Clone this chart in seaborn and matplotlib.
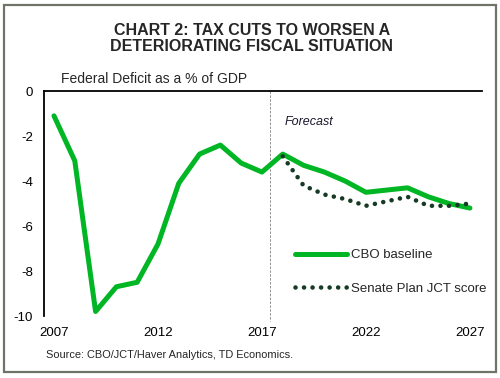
import pandas as pd
import matplotlib
matplotlib.use("Agg")
import matplotlib.pyplot as plt
from matplotlib.patches import Rectangle
import seaborn as sns

# values
years = list(range(2007, 2028))
cbo_baseline = [-1.1, -3.1, -9.8, -8.7, -8.5, -6.8, -4.1, -2.8, -2.4, -3.2, -3.6,
                -2.8, -3.3, -3.6, -4.0, -4.5, -4.4, -4.3, -4.7, -5.0, -5.2]
senate_years = list(range(2018, 2028))
senate_jct = [-2.9, -4.2, -4.6, -4.8, -5.1, -4.9, -4.7, -5.1, -5.1, -5.0]
xticks = [2007, 2012, 2017, 2022, 2027]
yticks = [0, -2, -4, -6, -8, -10]

sns.set_style("white")
plt.rcParams['font.family'] = ['Liberation Sans', 'DejaVu Sans']

cbo_df = pd.DataFrame({'year': years, 'deficit': cbo_baseline})
jct_df = pd.DataFrame({'year': senate_years, 'deficit': senate_jct})

fig = plt.figure(figsize=(5.0, 3.78), dpi=100)
ax = fig.add_axes([0.088, 0.164, 0.876, 0.595])

sns.lineplot(data=cbo_df, x='year', y='deficit', ax=ax, color='#00b624',
             linewidth=3.6, label='CBO baseline', solid_capstyle='round')
sns.lineplot(data=jct_df, x='year', y='deficit', ax=ax, color='#163a24',
             linewidth=3.3, linestyle=(0, (0.01, 1.85)), dash_capstyle='round',
             label='Senate Plan JCT score')

# forecast divider
ax.plot([2017.4, 2017.4], [0, -10.2], color='#909090', linewidth=0.7,
        linestyle=(0, (2.5, 1.5)), clip_on=False, zorder=1)
ax.text(2018.1, -1.37, 'Forecast', fontsize=9, style='italic',
        color='#1a1a2e', va='center', ha='left')

ax.set_xlim(2006.52, 2027.58)
ax.set_ylim(-10, 0)
ax.set_xticks(xticks)
ax.set_yticks(yticks)
ax.set_yticklabels([str(v) for v in yticks])
ax.tick_params(axis='both', length=0, labelsize=9.5, colors='black')
ax.tick_params(axis='y', pad=8)
ax.tick_params(axis='x', pad=8)
ax.set_xlabel('')
ax.set_ylabel('')

for side in ['right', 'bottom']:
    ax.spines[side].set_visible(False)
for side in ['top', 'left']:
    ax.spines[side].set_color('black')
    ax.spines[side].set_linewidth(1.3)

ax.legend(loc='center left', bbox_to_anchor=(0.576, 0.281),
          bbox_transform=fig.transFigure, frameon=False, fontsize=9.5,
          handlelength=4.0, handletextpad=0.25, labelspacing=1.6, borderpad=0)

fig.text(0.504, 0.898, 'CHART 2: TAX CUTS TO WORSEN A\nDETERIORATING FISCAL SITUATION',
         ha='center', va='center', fontsize=11.5, fontweight='bold',
         linespacing=1.15)
fig.text(0.122, 0.791, 'Federal Deficit as a % of GDP', ha='left', va='center',
         fontsize=10)
fig.text(0.092, 0.06, 'Source: CBO/JCT/Haver Analytics, TD Economics.',
         ha='left', va='center', fontsize=7.9)

# outer frame
fig.add_artist(Rectangle((0.008, 0.016), 0.984, 0.972, transform=fig.transFigure,
                         fill=False, edgecolor='#6e7468', linewidth=1.6))

fig.savefig('out.png', dpi=100)
